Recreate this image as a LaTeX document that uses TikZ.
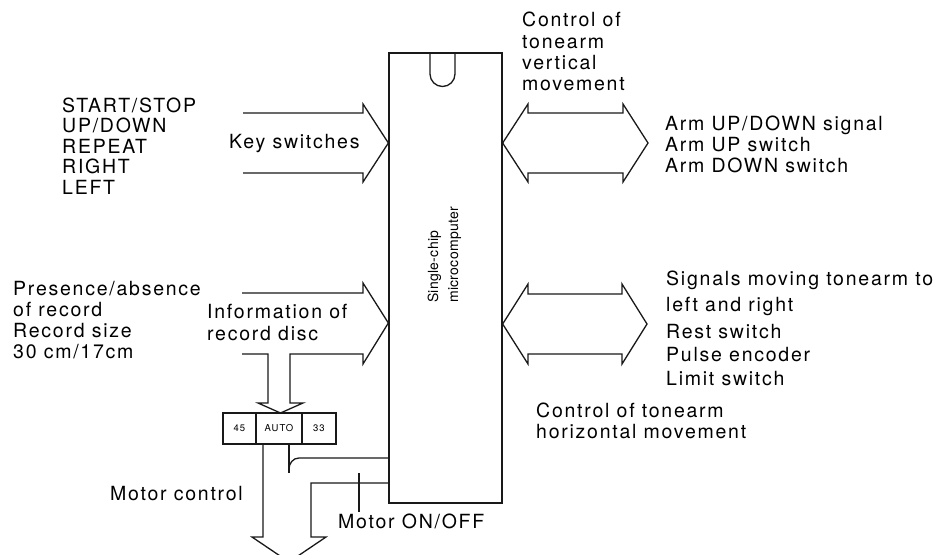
\documentclass[tikz,border=0pt]{standalone}
\usepackage{fontspec}
\setmainfont{TeX Gyre Heros}
\newfontfamily\lblfont{TeX Gyre Heros}[LetterSpace=9]
\newfontfamily\chipfont{TeX Gyre Heros}[LetterSpace=2]
\newfontfamily\smallfont{TeX Gyre Heros}[LetterSpace=10]
\begin{document}
\begin{tikzpicture}[x=1pt,y=-1pt,
  lbl/.style={inner sep=0pt,anchor=base west,font=\lblfont\fontsize{19.5}{21}\selectfont},
  chiplbl/.style={inner sep=0pt,rotate=90,anchor=base west,font=\chipfont\fontsize{14}{16}\selectfont},
  boxlbl/.style={inner sep=0pt,font=\smallfont\fontsize{9.5}{11}\selectfont},
  ln/.style={line width=1.3pt,line join=miter,black!90},
  cell/.style={draw,line width=1.3pt,black!90,inner sep=0pt,minimum height=31pt}]
\useasboundingbox[fill=white] (0,0) rectangle (941,554);

% chip
\node[draw,ln,minimum width=113pt,minimum height=450pt,inner sep=0pt] (chip) at (445.5,278) {};
\draw[ln] (430,53) -- (430,74) arc[start angle=180,end angle=360,radius=12.5pt] -- (455,53);
\node[chiplbl] (chipA) at (438,303) {Single-chip};
\node[chiplbl] (chipB) at (458,303) {microcomputer};

% key switch arrow
\draw[ln] (243,113) -- (363,113) -- (363,104) -- (chip.west |- 0,143) -- (363,182) -- (363,173) -- (243,173);
% record info arrow with downward branch
\draw[ln] (242,293) -- (363,293) -- (363,283) -- (chip.west |- 0,323) -- (363,364) -- (363,354) -- (290,354)
  -- (290,403) -- (303,403) -- (280.5,413) -- (258,403) -- (268,403) -- (268,354) -- (242,354);

% selector box
\node[cell,minimum width=33pt] (b45) at (239.5,428.5) {};
\node[cell,minimum width=46pt] (bauto) at (279,428.5) {};
\node[cell,minimum width=34pt] (b33) at (319,428.5) {};
\node[boxlbl] (t45) at (b45) {45};
\node[boxlbl] (tauto) at (bauto) {AUTO};
\node[boxlbl] (t33) at (b33) {33};

% motor control arrow
\draw[ln] (263,444) -- (263,537) -- (252,537) -- (289,562) -- (326,537) -- (311,537) -- (311,483) -- (chip.west |- 0,483);
% AUTO branch
\draw[ln] (289,444) -- (289,473);
\draw[ln] (chip.west |- 0,458) -- (299,458) to[out=180,in=90] (289,469);
% tick
\draw[ln] (359,473) -- (359,512);

% double arrows right
\draw[ln] (chip.east |- 0,143) -- (528,104) -- (528,113) -- (623,113) -- (623,104) -- (648,143) -- (623,182) -- (623,173) -- (528,173) -- (528,182) -- cycle;
\draw[ln] (chip.east |- 0,324) -- (528,284) -- (528,294) -- (622,294) -- (622,284) -- (647,324) -- (622,364) -- (622,354) -- (528,354) -- (528,364) -- cycle;

% left texts
\node[lbl] (k1) at (62,112) {START/STOP};
\node[lbl] (k2) at (62,132.5) {UP/DOWN};
\node[lbl] (k3) at (62,153) {REPEAT};
\node[lbl] (k4) at (62,173.5) {RIGHT};
\node[lbl] (k5) at (62,194) {LEFT};
\node[lbl] (keys) at (229,148) {Key switches};

\node[lbl] (p1) at (13,295) {Presence/absence};
\node[lbl] (p2) at (13,316) {of record};
\node[lbl] (p3) at (13,337) {Record size};
\node[lbl] (p4) at (13,358) {30 cm/17cm};
\node[lbl] (i1) at (207,318) {Information of};
\node[lbl] (i2) at (207,340) {record disc};

\node[lbl,anchor=base east] (mc) at (243,500) {Motor control};
\node[lbl] (mo) at (338,528) {Motor ON/OFF};

% top texts
\node[lbl] (c1) at (522,27) {Control of};
\node[lbl] (c2) at (522,48) {tonearm};
\node[lbl] (c3) at (522,69) {vertical};
\node[lbl] (c4) at (522,90) {movement};

% right texts
\node[lbl] (a1) at (665,130) {Arm UP/DOWN signal};
\node[lbl] (a2) at (665,151) {Arm UP switch};
\node[lbl] (a3) at (665,172) {Arm DOWN switch};

\node[lbl] (s1) at (666,285) {Signals moving tonearm to};
\node[lbl] (s2) at (666,311.5) {left and right};
\node[lbl] (s3) at (666,338) {Rest switch};
\node[lbl] (s4) at (666,361.5) {Pulse encoder};
\node[lbl] (s5) at (666,385) {Limit switch};

\node[lbl] (h1) at (536,417) {Control of tonearm};
\node[lbl] (h2) at (536,438) {horizontal movement};
\end{tikzpicture}
\end{document}
